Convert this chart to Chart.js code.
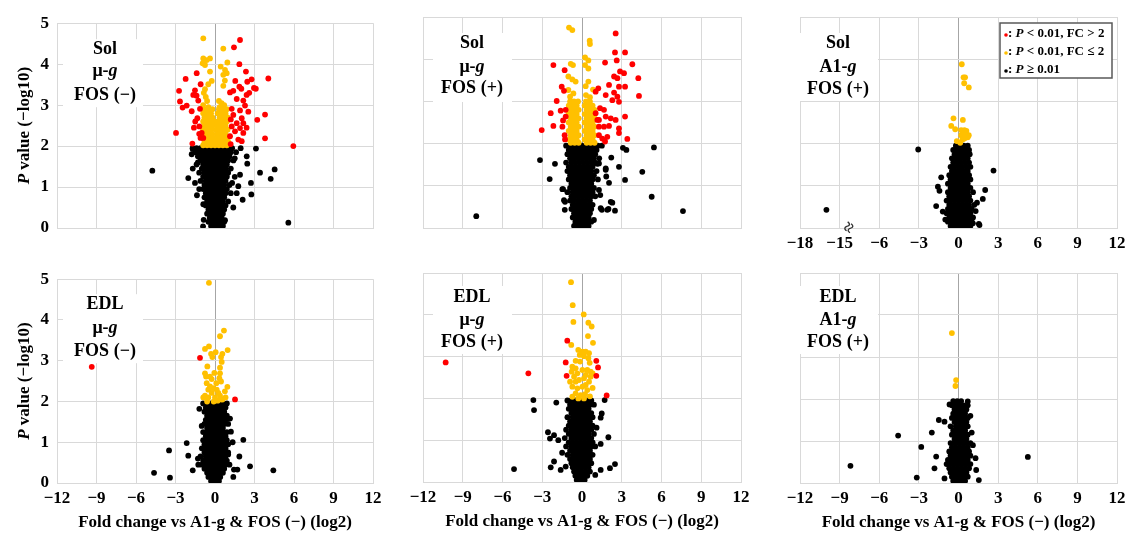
<!DOCTYPE html>
<html>
<head>
<meta charset="utf-8">
<script src="https://cdn.jsdelivr.net/npm/chart.js@4.4.0/dist/chart.umd.min.js"></script>
<style>
  body { margin: 0; background: #fff; width: 1131px; height: 539px; overflow: hidden; position: relative; }
  canvas { position: absolute; }
</style>
</head>
<body>
<canvas id="c0"></canvas><canvas id="c1"></canvas><canvas id="c2"></canvas>
<canvas id="c3"></canvas><canvas id="c4"></canvas><canvas id="c5"></canvas>
<script>
// tick labels
const xTicksNormal = ["−12", "−9", "−6", "−3", "0", "3", "6", "9", "12"];
const xTicksBroken = ["−18", "−15", "−6", "−3", "0", "3", "6", "9", "12"];
const yTicks = ["0", "1", "2", "3", "4", "5"];
const xTitle = "Fold change vs A1-g & FOS (−) (log2)";

// ---- Sol, mu-g, FOS (-) ----
const solMuMinusRed = [
  [1.9,4.59],[1.44,4.41],[1.85,4.0],[2.35,3.82],[4.05,3.65],[2.78,3.63],[2.45,3.57],[1.54,3.59],
  [1.85,3.45],[2.0,3.4],[2.96,3.42],[3.1,3.4],[-2.23,3.64],[-1.39,3.78],[-1.09,3.51],[-2.73,3.35],
  [-1.52,3.36],[-1.65,3.25],[-1.4,3.23],[-2.66,3.09],[-2.46,2.94],[-2.15,2.99],[-1.77,2.85],[-2.96,2.32],
  [-1.5,2.6],[-1.6,2.45],[-1.2,2.3],[-1.1,2.2],[1.14,3.31],[1.39,3.35],[1.65,3.15],[2.15,3.11],
  [2.28,2.99],[1.27,2.91],[1.9,2.87],[2.53,2.84],[1.39,2.76],[2.03,2.68],[1.65,2.56],[2.15,2.56],
  [1.27,2.48],[1.9,2.44],[1.52,2.36],[2.15,2.32],[1.14,2.24],[1.77,2.16],[2.03,2.12],[1.19,2.05],
  [3.8,2.77],[3.21,2.64],[3.8,2.19],[5.95,2.0],[-1.27,3.11],[-1.14,2.91],[-1.34,2.68],[-1.19,2.48],
  [-1.01,2.32],[-0.89,2.2],[-1.72,2.06],[2.4,3.25],[2.6,3.3],[1.2,2.65],[2.4,2.45]
];
const solMuMinusOrange = [
  [-0.89,4.63],[0.63,4.38],[-0.89,4.14],[-0.63,4.1],[-0.38,4.14],[-0.94,4.02],[-0.76,3.98],[0.94,4.04],
  [0.43,3.94],[0.76,3.86],[0.89,3.78],[0.63,3.74],[-0.38,3.82],[-0.25,3.59],[-0.51,3.51],[-0.76,3.39],
  [0.63,3.47],[0.75,3.6],[-0.85,3.3],[-0.7,3.2],[-0.6,3.1],[0.3,3.1],[0.5,3.05],[0.7,3.0],
  [0.35,2.95],[-0.9,3.0],[-0.5,2.95]
];
const solMuMinusOrangeRows = [
  [2.9,-0.8,-0.5,-0.2,0.3,0.6,0.9],
  [2.8,-0.9,-0.6,-0.3,0.2,0.5,0.8],
  [2.7,-0.8,-0.5,-0.2,0.35,0.65,0.95],
  [2.6,-0.9,-0.6,-0.3,0,0.3,0.6,0.9],
  [2.5,-0.8,-0.5,-0.2,0.2,0.5,0.8],
  [2.4,-0.9,-0.6,-0.3,0.05,0.35,0.65,0.95],
  [2.3,-0.8,-0.5,-0.2,0.2,0.5,0.8],
  [2.2,-0.9,-0.6,-0.3,0,0.3,0.6,0.9],
  [2.1,-0.8,-0.5,-0.2,0.15,0.45,0.75,1.0],
  [2.02,-0.9,-0.6,-0.3,0,0.3,0.6,0.9]
];
const solMuMinusBlack = [
  [-4.76,1.4],[5.57,0.13],[4.53,1.43],[4.23,1.2],[3.42,1.35],[2.73,1.1],[2.76,0.82],[3.11,1.94],
  [2.41,1.75],[2.45,1.57],[1.95,1.95],[2.1,0.69],[1.77,1.02],[-1.69,1.93],[-1.77,1.8],[-1.69,1.45],
  [-2.03,1.22],[-1.52,1.1],[-0.89,0.58],[-1.37,0.8],[-0.86,0.2],[-0.91,0.04],[0.76,0.19],[1.39,0.5],
  [1.65,0.85],[1.9,1.3],[1.5,1.7],[-1.3,1.6],[-1.2,0.95],[1.3,1.1]
];
const solMuMinusBlackRows = [
  [1.95,-1.7,-1.4,-1.1,-0.8,-0.5,-0.2,0.1,0.4,0.7,1.0,1.3],
  [1.85,-1.5,-1.2,-0.9,-0.6,-0.3,0,0.3,0.6,0.9,1.2,1.6],
  [1.75,-1.3,-1.0,-0.7,-0.4,-0.1,0.2,0.5,0.8,1.1],
  [1.65,-1.1,-0.8,-0.5,-0.2,0.1,0.4,0.7,1.0,1.4],
  [1.55,-1.4,-0.9,-0.6,-0.3,0,0.3,0.6,0.9],
  [1.45,-1.0,-0.7,-0.4,-0.1,0.2,0.5,0.8,1.2],
  [1.35,-1.2,-0.8,-0.5,-0.2,0.1,0.4,0.7,1.0],
  [1.25,-0.9,-0.6,-0.3,0,0.3,0.6,0.9,1.5],
  [1.15,-1.1,-0.7,-0.4,-0.1,0.2,0.5,0.8],
  [1.05,-0.8,-0.5,-0.2,0.1,0.4,0.7,1.1],
  [0.95,-0.9,-0.6,-0.3,0,0.3,0.6,0.9],
  [0.85,-0.7,-0.4,-0.1,0.2,0.5,0.8,1.2],
  [0.75,-0.8,-0.5,-0.2,0.1,0.4,0.7],
  [0.65,-0.6,-0.3,0,0.3,0.6,1.0],
  [0.55,-0.7,-0.4,-0.1,0.2,0.5,0.8],
  [0.45,-0.5,-0.2,0.1,0.4,0.7],
  [0.35,-0.6,-0.3,0,0.3,0.6],
  [0.25,-0.4,-0.1,0.2,0.5],
  [0.15,-0.5,-0.2,0.1,0.4,0.7],
  [0.05,-0.3,0,0.3,0.6]
];

// ---- Sol, mu-g, FOS (+) ----
const solMuPlusRed = [
  [2.54,4.61],[2.49,4.16],[3.25,4.16],[2.62,3.97],[1.74,3.92],[3.8,3.88],[2.87,3.71],[3.17,3.67],
  [2.42,3.59],[2.67,3.55],[4.25,3.55],[2.04,3.39],[2.79,3.35],[3.25,3.35],[1.23,3.31],[1.03,3.23],
  [1.79,3.15],[2.42,3.21],[2.67,3.11],[2.29,3.03],[2.79,2.99],[4.3,3.13],[1.36,2.84],[1.66,2.8],
  [1.28,2.56],[1.79,2.64],[2.17,2.6],[2.54,2.56],[3.25,2.64],[1.66,2.4],[2.04,2.42],[2.79,2.36],
  [1.28,2.2],[1.53,2.12],[1.91,2.16],[1.74,2.05],[3.42,2.11],[2.79,2.25],[1.16,2.56],[1.28,2.4],
  [1.03,2.72],[-2.16,3.86],[-1.31,3.74],[-1.53,3.35],[-1.36,3.25],[-1.91,3.01],[-1.61,2.78],[-1.23,2.8],
  [-2.36,2.72],[-1.23,2.64],[-2.16,2.42],[-1.48,2.4],[-1.31,2.2],[-3.04,2.32],[-1.43,2.55],[-1.28,2.1]
];
const solMuPlusOrange = [
  [-0.98,4.75],[-0.73,4.69],[0.58,4.44],[0.6,4.36],[0.23,4.04],[0.48,3.97],[-0.85,3.89],[-0.68,3.86],
  [0.23,3.86],[0.48,3.78],[-1.03,3.59],[-0.73,3.52],[-0.48,3.47],[0.48,3.47],[0.28,3.36],[0.83,3.28],
  [-1.03,3.27],[-0.65,3.19],[-0.9,3.11],[0.3,3.15],[0.6,3.1]
];
const solMuPlusOrangeRows = [
  [3.0,-0.9,-0.6,-0.3,0.3,0.6],
  [2.9,-1.0,-0.7,-0.4,0.2,0.5,0.8],
  [2.8,-0.85,-0.55,-0.25,0.35,0.65,0.95],
  [2.7,-1.0,-0.7,-0.4,0.2,0.5,0.8],
  [2.6,-0.85,-0.55,-0.25,0.35,0.65,0.95],
  [2.5,-1.0,-0.7,-0.4,0.2,0.5,0.8],
  [2.4,-0.85,-0.55,-0.25,0.35,0.65,0.95],
  [2.3,-1.0,-0.7,-0.4,0.2,0.5,0.8],
  [2.2,-0.85,-0.55,-0.25,0.35,0.65,0.95],
  [2.1,-1.0,-0.7,-0.4,0.2,0.5,0.8],
  [2.02,-0.85,-0.55,-0.25,0.35,0.65,0.95]
];
const solMuPlusBlack = [
  [-7.98,0.28],[7.62,0.4],[5.26,0.74],[5.43,1.91],[4.55,1.33],[3.35,1.85],[3.09,1.9],[2.79,1.45],
  [2.21,1.67],[3.25,1.14],[2.29,0.6],[2.49,0.41],[2.0,0.45],[1.5,0.43],[-3.17,1.61],[-2.04,1.52],
  [-2.44,1.16],[-1.43,0.92],[-1.28,0.62],[1.16,1.52],[1.79,1.38],[2.04,1.07],[1.38,0.78],[1.28,1.53],
  [1.79,1.41],[1.83,1.22],[1.28,0.9],[2.17,0.62],[1.91,0.43],[1.41,0.47],[0.9,0.19],[-1.48,0.92],
  [-1.36,0.66],[-1.3,0.43]
];
const solMuPlusBlackRows = [
  [1.95,-1.2,-0.9,-0.6,-0.3,0,0.3,0.6,0.9,1.2,1.5],
  [1.85,-1.0,-0.7,-0.4,-0.1,0.2,0.5,0.8,1.1],
  [1.75,-1.1,-0.8,-0.5,-0.2,0.1,0.4,0.7,1.0],
  [1.65,-0.9,-0.6,-0.3,0,0.3,0.6,0.9,1.3],
  [1.55,-1.2,-0.8,-0.5,-0.2,0.1,0.4,0.7,1.0],
  [1.45,-1.0,-0.7,-0.4,-0.1,0.2,0.5,0.8],
  [1.35,-1.1,-0.8,-0.5,-0.2,0.1,0.4,0.7,1.1],
  [1.25,-0.9,-0.6,-0.3,0,0.3,0.6,0.9],
  [1.15,-1.0,-0.7,-0.4,-0.1,0.2,0.5,0.8,1.2],
  [1.05,-0.8,-0.5,-0.2,0.1,0.4,0.7],
  [0.95,-0.9,-0.6,-0.3,0,0.3,0.6,0.9],
  [0.85,-1.1,-0.7,-0.4,-0.1,0.2,0.5,0.8],
  [0.75,-0.8,-0.5,-0.2,0.1,0.4,0.7,1.0],
  [0.65,-0.9,-0.6,-0.3,0,0.3,0.6],
  [0.55,-0.7,-0.4,-0.1,0.2,0.5,0.8],
  [0.45,-0.8,-0.5,-0.2,0.1,0.4,0.7],
  [0.35,-0.6,-0.3,0,0.3,0.6],
  [0.25,-0.7,-0.4,-0.1,0.2,0.5],
  [0.15,-0.5,-0.2,0.1,0.4,0.7],
  [0.05,-0.6,-0.3,0,0.3,0.5]
];

// ---- Sol, A1-g, FOS (+) ----
const solA1PlusRed = [];
const solA1PlusOrange = [
  [0.25,3.88],[0.38,3.57],[0.5,3.57],[0.43,3.43],[0.78,3.33],[-0.38,2.6],[0.33,2.56],[-0.55,2.42],
  [-0.25,2.34],[0.2,2.32],[0.45,2.32],[0.33,2.24],[0.58,2.2],[0.78,2.2],[0.2,2.2],[0.45,2.12],
  [0.7,2.15],[-0.13,2.06],[0.13,2.02],[0.6,2.3],[0.3,2.1]
];
const solA1PlusOrangeRows = [];
const solA1PlusBlack = [
  [-16.0,0.43],[-3.05,1.86],[2.65,1.36],[2.02,0.9],[1.84,0.69],[-1.69,0.52],[-1.31,1.2],[-1.44,0.88],
  [1.59,0.07],[1.54,0.1],[1.09,0.11],[-1.19,0.39],[-1.56,0.98],[1.3,0.4],[1.4,0.6],[-1.0,0.2]
];
const solA1PlusBlackRows = [
  [1.95,-0.2,0.1,0.4,0.7],
  [1.85,-0.4,-0.1,0.2,0.5,0.8],
  [1.75,-0.3,0,0.3,0.6,0.85],
  [1.65,-0.5,-0.2,0.1,0.4,0.7],
  [1.55,-0.4,-0.1,0.2,0.5,0.8],
  [1.45,-0.6,-0.3,0,0.3,0.6,0.9],
  [1.35,-0.5,-0.2,0.1,0.4,0.7],
  [1.25,-0.7,-0.4,-0.1,0.2,0.5,0.8],
  [1.15,-0.6,-0.3,0,0.3,0.6,0.9],
  [1.05,-0.8,-0.5,-0.2,0.1,0.4,0.7],
  [0.95,-0.6,-0.3,0,0.3,0.6,0.9],
  [0.85,-0.8,-0.5,-0.2,0.1,0.4,0.7,1.1],
  [0.75,-0.7,-0.4,-0.1,0.2,0.5,0.8],
  [0.65,-0.9,-0.6,-0.3,0,0.3,0.6,0.9],
  [0.55,-0.7,-0.4,-0.1,0.2,0.5,0.8,1.2],
  [0.45,-0.8,-0.5,-0.2,0.1,0.4,0.7,1.0],
  [0.35,-0.9,-0.6,-0.3,0,0.3,0.6,0.9],
  [0.25,-0.7,-0.4,-0.1,0.2,0.5,0.8,1.1],
  [0.15,-0.8,-0.5,-0.2,0.1,0.4,0.7,1.0],
  [0.05,-0.6,-0.3,0,0.3,0.6,0.9]
];

// ---- EDL, mu-g, FOS (-) ----
const edlMuMinusRed = [[-1.14,3.07],[1.52,2.05],[-9.36,2.85]];
const edlMuMinusOrange = [
  [-0.46,4.91],[0.68,3.74],[0.38,3.6],[-0.76,3.29],[-0.46,3.35],[0.96,3.26],[-0.3,3.17],[-0.2,3.09],
  [0.05,3.21],[0.56,3.17],[0.46,3.09],[0.51,2.97],[-0.58,2.86],[0.38,2.83],[-0.76,2.69],[-0.68,2.61],
  [-0.38,2.61],[-0.25,2.55],[0.38,2.69],[0.33,2.57],[0.46,2.49],[0.94,2.36],[-0.63,2.45],[-0.38,2.37],
  [-0.51,2.29],[-0.13,2.33],[0.13,2.29],[0.25,2.21],[-0.25,2.21],[-0.76,2.14],[-0.51,2.1],[0,2.1],
  [0.38,2.14],[0.51,2.05],[-0.89,2.1],[0.56,2.05],[-0.1,2.0],[0.2,2.02],[-0.6,2.0],[0.8,2.1],
  [0.1,2.45],[-0.05,2.7],[0.75,2.25]
];
const edlMuMinusOrangeRows = [];
const edlMuMinusBlack = [
  [-4.63,0.25],[-3.49,0.8],[-3.42,0.13],[-2.15,0.98],[-2.03,0.67],[-1.69,0.31],[-1.27,0.45],[4.43,0.31],
  [2.66,0.41],[2.15,1.06],[1.85,0.65],[1.44,0.33],[1.7,0.33],[1.34,1.0],[-1.01,1.4],[-1.19,1.82],
  [1.14,1.58],[1.21,1.26],[1.39,0.15],[1.0,0.7],[-1.3,0.6]
];
const edlMuMinusBlackRows = [
  [1.95,-0.9,-0.6,-0.3,0,0.3,0.6,0.9],
  [1.85,-0.7,-0.4,-0.1,0.2,0.5,0.8],
  [1.75,-0.8,-0.5,-0.2,0.1,0.4,0.7],
  [1.65,-0.6,-0.3,0,0.3,0.6,0.9],
  [1.55,-0.7,-0.4,-0.1,0.2,0.5,0.8],
  [1.45,-0.8,-0.5,-0.2,0.1,0.4,0.7,1.0],
  [1.35,-0.6,-0.3,0,0.3,0.6],
  [1.25,-0.9,-0.6,-0.3,0,0.3,0.6,0.9],
  [1.15,-0.7,-0.4,-0.1,0.2,0.5,0.8],
  [1.05,-0.9,-0.6,-0.3,0,0.3,0.6,0.9],
  [0.95,-0.8,-0.5,-0.2,0.1,0.4,0.7,1.0],
  [0.85,-1.0,-0.7,-0.4,-0.1,0.2,0.5,0.8],
  [0.75,-0.8,-0.5,-0.2,0.1,0.4,0.7,1.0],
  [0.65,-1.1,-0.7,-0.4,-0.1,0.2,0.5,0.8],
  [0.55,-0.9,-0.6,-0.3,0,0.3,0.6,0.9],
  [0.45,-1.0,-0.7,-0.4,-0.1,0.2,0.5,0.8,1.1],
  [0.35,-0.8,-0.5,-0.2,0.1,0.4,0.7],
  [0.25,-0.6,-0.3,0,0.3,0.6],
  [0.15,-0.5,-0.2,0.1,0.4],
  [0.05,-0.3,0,0.3]
];

// ---- EDL, mu-g, FOS (+) ----
const edlMuPlusRed = [
  [-1.11,3.38],[-1.23,2.86],[-1.16,2.54],[1.08,2.9],[1.21,2.74],[1.08,2.54],[1.86,2.07],[-4.05,2.6],
  [-10.29,2.86]
];
const edlMuPlusOrange = [
  [-0.83,4.78],[-0.7,4.23],[0.13,4.01],[-0.65,3.83],[0.48,3.81],[0.73,3.72],[0.45,3.49],[0.83,3.33],
  [-0.81,3.28],[-0.28,3.16],[0.03,3.12],[0.28,3.12],[0.53,3.08],[-0.17,3.04],[0.15,3.01],[0.48,2.96],
  [-0.48,2.9],[-0.15,2.88],[0.58,2.85],[-0.73,2.76],[-0.48,2.72],[-0.78,2.64],[-0.35,2.6],[-0.6,2.52],
  [0.03,2.68],[0.4,2.68],[0.65,2.64],[0.28,2.56],[0.65,2.52],[-0.48,2.4],[-0.23,2.44],[0.15,2.48],
  [0.53,2.4],[-0.73,2.28],[-0.35,2.24],[0.03,2.28],[0.28,2.32],[0.4,2.2],[-0.48,2.12],[-0.1,2.08],
  [0.23,2.1],[-0.73,2.04],[-0.28,2.0],[0.15,2.0],[0.6,2.05],[0.8,2.25],[-0.9,2.4],[0.8,2.6]
];
const edlMuPlusOrangeRows = [];
const edlMuPlusBlack = [
  [-5.13,0.31],[-3.67,1.96],[-3.62,1.72],[-1.94,1.9],[-2.57,1.19],[-2.11,1.12],[-2.42,1.04],[-1.79,1.0],
  [-2.11,0.49],[-2.36,0.35],[-1.61,0.29],[-1.23,0.37],[1.71,1.96],[1.49,1.64],[1.41,1.54],[1.99,1.07],
  [1.41,0.91],[2.11,0.33],[2.49,0.43],[1.41,0.29],[1.0,0.17],[1.1,1.3],[-1.5,0.7]
];
const edlMuPlusBlackRows = [
  [1.95,-1.1,-0.8,-0.5,-0.2,0.1,0.4,0.7],
  [1.85,-0.9,-0.6,-0.3,0,0.3,0.6,0.9],
  [1.75,-1.0,-0.7,-0.4,-0.1,0.2,0.5],
  [1.65,-0.8,-0.5,-0.2,0.1,0.4,0.7],
  [1.55,-1.1,-0.7,-0.4,-0.1,0.2,0.5,0.8],
  [1.45,-0.9,-0.6,-0.3,0,0.3,0.6],
  [1.35,-1.0,-0.7,-0.4,-0.1,0.2,0.5,0.8],
  [1.25,-1.2,-0.8,-0.5,-0.2,0.1,0.4,0.7],
  [1.15,-1.0,-0.7,-0.4,-0.1,0.2,0.5,0.9],
  [1.05,-1.3,-0.8,-0.5,-0.2,0.1,0.4,0.7],
  [0.95,-1.0,-0.7,-0.4,-0.1,0.2,0.5,0.8],
  [0.85,-1.2,-0.8,-0.5,-0.2,0.1,0.4,0.7,1.0],
  [0.75,-0.9,-0.6,-0.3,0,0.3,0.6],
  [0.65,-1.1,-0.7,-0.4,-0.1,0.2,0.5,0.8],
  [0.55,-0.9,-0.6,-0.3,0,0.3,0.6],
  [0.45,-0.8,-0.5,-0.2,0.1,0.4,0.7],
  [0.35,-0.7,-0.4,-0.1,0.2,0.5],
  [0.25,-0.6,-0.3,0,0.3,0.6],
  [0.15,-0.5,-0.2,0.1,0.4],
  [0.05,-0.4,-0.1,0.2]
];

// ---- EDL, A1-g, FOS (+) ----
const edlA1PlusRed = [];
const edlA1PlusOrange = [[-0.5,3.57],[-0.18,2.45],[-0.23,2.31]];
const edlA1PlusOrangeRows = [];
const edlA1PlusBlack = [
  [-8.18,0.41],[-4.57,1.13],[-2.82,0.86],[-3.16,0.13],[5.25,0.62],[-2.02,1.2],[-1.49,1.5],[-1.06,1.46],
  [-1.69,0.63],[-1.82,0.35],[-1.06,0.11],[0.7,1.94],[1.09,0.9],[1.29,0.59],[1.34,0.31],[1.54,0.07],
  [-0.68,1.87],[1.0,1.2],[0.9,1.6]
];
const edlA1PlusBlackRows = [
  [1.95,-0.4,-0.1,0.2],
  [1.85,-0.5,-0.2,0.1,0.4,0.7],
  [1.75,-0.3,0,0.3,0.6],
  [1.65,-0.4,-0.1,0.2,0.5],
  [1.55,-0.5,-0.2,0.1,0.4,0.7],
  [1.45,-0.3,0,0.3,0.6],
  [1.35,-0.6,-0.2,0.1,0.4,0.7],
  [1.25,-0.4,-0.1,0.2,0.5],
  [1.15,-0.5,-0.2,0.1,0.4,0.7],
  [1.05,-0.3,0,0.3,0.6],
  [0.95,-0.6,-0.3,0,0.3,0.6,0.9],
  [0.85,-0.5,-0.2,0.1,0.4,0.7],
  [0.75,-0.7,-0.4,-0.1,0.2,0.5,0.8],
  [0.65,-0.6,-0.3,0,0.3,0.6,0.9],
  [0.55,-0.8,-0.5,-0.2,0.1,0.4,0.7],
  [0.45,-0.9,-0.6,-0.3,0,0.3,0.6,0.9],
  [0.35,-0.7,-0.4,-0.1,0.2,0.5,0.8],
  [0.25,-0.6,-0.3,0,0.3,0.6],
  [0.15,-0.5,-0.2,0.1,0.4,0.7],
  [0.05,-0.4,-0.1,0.2,0.5]
];

const RED = "#ff0000", ORANGE = "#ffc000", BLACK = "#000000";
const FONT = "'Liberation Serif', 'Times New Roman', serif";
const GRID = "#d9d9d9", ZERO = "#a6a6a6";

function rowsToPoints(rows, shift) {
  const pts = [];
  rows.forEach(r => {
    for (let i = 1; i < r.length; i++) pts.push({ x: shift(r[i]), y: r[0] });
  });
  return pts;
}
function toPoints(list, shift) {
  return list.map(([x, y]) => ({ x: shift(x), y: y }));
}
const noShift = x => x;
// the broken axis of the Sol A1-g panel: left of the break, labels run 6 lower
const brokenShift = x => (x < -9 ? x + 6 : x);

function fontStr(size, italic) {
  return (italic ? "italic " : "") + "bold " + size + "px " + FONT;
}
function drawRich(ctx, segs, x, y, size, align) {
  let w = 0;
  segs.forEach(([t, it]) => { ctx.font = fontStr(size, it); w += ctx.measureText(t).width; });
  let cx = align === "center" ? x - w / 2 : x;
  ctx.textAlign = "left";
  ctx.textBaseline = "middle";
  segs.forEach(([t, it]) => {
    ctx.font = fontStr(size, it);
    ctx.fillText(t, cx, y);
    cx += ctx.measureText(t).width;
  });
}

const panels = [
  { left: 57, top: 17, w: 316, h: 211, bottomRow: false, yLab: true, xLab: null, shift: noShift,
    red: solMuMinusRed, orange: solMuMinusOrange, orangeRows: solMuMinusOrangeRows,
    black: solMuMinusBlack, blackRows: solMuMinusBlackRows,
    lines: [[["Sol", 0]], [["μ-", 0], ["g", 1]], [["FOS (−)", 0]]], tx: 48, ty: [26, 48, 72], box: [6, 16, 80, 68] },
  { left: 423, top: 17, w: 318, h: 211, bottomRow: false, yLab: false, xLab: null, shift: noShift,
    red: solMuPlusRed, orange: solMuPlusOrange, orangeRows: solMuPlusOrangeRows,
    black: solMuPlusBlack, blackRows: solMuPlusBlackRows,
    lines: [[["Sol", 0]], [["μ-", 0], ["g", 1]], [["FOS (+)", 0]]], tx: 49, ty: [26, 50, 71], box: [10, 16, 79, 69] },
  { left: 800, top: 17, w: 317, h: 211, bottomRow: false, yLab: false, xLab: xTicksBroken, shift: brokenShift,
    red: solA1PlusRed, orange: solA1PlusOrange, orangeRows: solA1PlusOrangeRows,
    black: solA1PlusBlack, blackRows: solA1PlusBlackRows, legend: true, brk: true,
    lines: [[["Sol", 0]], [["A1-", 0], ["g", 1]], [["FOS (+)", 0]]], tx: 38, ty: [26, 50, 72], box: [0, 16, 78, 68] },
  { left: 57, top: 273, w: 316, h: 210, bottomRow: true, yLab: true, xLab: xTicksNormal, shift: noShift,
    red: edlMuMinusRed, orange: edlMuMinusOrange, orangeRows: edlMuMinusOrangeRows,
    black: edlMuMinusBlack, blackRows: edlMuMinusBlackRows,
    lines: [[["EDL", 0]], [["μ-", 0], ["g", 1]], [["FOS (−)", 0]]], tx: 48, ty: [25, 49, 72], box: [6, 15, 80, 69] },
  { left: 423, top: 273, w: 318, h: 209, bottomRow: true, yLab: false, xLab: xTicksNormal, shift: noShift,
    red: edlMuPlusRed, orange: edlMuPlusOrange, orangeRows: edlMuPlusOrangeRows,
    black: edlMuPlusBlack, blackRows: edlMuPlusBlackRows,
    lines: [[["EDL", 0]], [["μ-", 0], ["g", 1]], [["FOS (+)", 0]]], tx: 49, ty: [24, 47, 69], box: [10, 13, 79, 68] },
  { left: 800, top: 273, w: 317, h: 210, bottomRow: true, yLab: false, xLab: xTicksNormal, shift: noShift,
    red: edlA1PlusRed, orange: edlA1PlusOrange, orangeRows: edlA1PlusOrangeRows,
    black: edlA1PlusBlack, blackRows: edlA1PlusBlackRows,
    lines: [[["EDL", 0]], [["A1-", 0], ["g", 1]], [["FOS (+)", 0]]], tx: 38, ty: [24, 47, 69], box: [0, 13, 78, 68] }
];

const YW = 57, PT = 12, PR = 16;

panels.forEach((p, i) => {
  const XH = p.bottomRow ? 52 : 30;
  const canvas = document.getElementById("c" + i);
  const cw = p.w + YW + PR, ch = p.h + PT + XH;
  canvas.width = cw; canvas.height = ch;
  canvas.style.width = cw + "px"; canvas.style.height = ch + "px";
  canvas.style.left = (p.left - YW) + "px";
  canvas.style.top = (p.top - PT) + "px";

  const decor = {
    id: "decor" + i,
    beforeDatasetsDraw(chart) {
      const { ctx, chartArea: a } = chart;
      ctx.save();
      ctx.fillStyle = "#fff";
      ctx.fillRect(a.left + p.box[0], a.top + p.box[1], p.box[2], p.box[3]);
      ctx.fillStyle = "#000";
      p.lines.forEach((segs, k) => drawRich(ctx, segs, a.left + p.tx, a.top + p.ty[k], 18, "center"));
      ctx.restore();
    },
    afterDatasetsDraw(chart) {
      const { ctx, chartArea: a } = chart;
      ctx.save();
      if (p.yLab) {
        ctx.translate(25 - (p.left - YW), (a.top + a.bottom) / 2);
        ctx.rotate(-Math.PI / 2);
        ctx.fillStyle = "#000";
        drawRich(ctx, [["P", 1], [" value (−log10)", 0]], 0, 0, 17, "center");
        ctx.setTransform(1, 0, 0, 1, 0, 0);
      }
      if (p.legend) {
        const lx = a.left + 200, ly = a.top + 6;
        ctx.fillStyle = "#fff";
        ctx.fillRect(lx, ly, 112, 55);
        ctx.strokeStyle = "#595959";
        ctx.lineWidth = 1.5;
        ctx.strokeRect(lx, ly, 112, 55);
        const items = [
          [RED, [[": ", 0], ["P", 1], [" < 0.01, FC > 2", 0]]],
          [ORANGE, [[": ", 0], ["P", 1], [" < 0.01, FC ≤ 2", 0]]],
          [BLACK, [[": ", 0], ["P", 1], [" ≥ 0.01", 0]]]
        ];
        items.forEach(([c, segs], k) => {
          const yy = ly + 11 + k * 18;
          ctx.fillStyle = c;
          ctx.beginPath();
          ctx.arc(lx + 6, yy + 1, 1.8, 0, Math.PI * 2);
          ctx.fill();
          ctx.fillStyle = "#000";
          drawRich(ctx, segs, lx + 8, yy, 13, "left");
        });
      }
      if (p.brk) {
        const bx = chart.scales.x.getPixelForValue(-8.2);
        ctx.translate(bx, a.bottom);
        ctx.rotate(-Math.PI / 3);
        ctx.fillStyle = "#333";
        ctx.font = "bold 19px " + FONT;
        ctx.textAlign = "center";
        ctx.textBaseline = "middle";
        ctx.fillText("≈", 0, 0);
      }
      ctx.restore();
    }
  };

  new Chart(canvas, {
    type: "scatter",
    data: {
      datasets: [
        { label: "P < 0.01, FC > 2", data: toPoints(p.red, p.shift), backgroundColor: RED },
        { label: "P < 0.01, FC ≤ 2", data: toPoints(p.orange, p.shift).concat(rowsToPoints(p.orangeRows, p.shift)), backgroundColor: ORANGE },
        { label: "P ≥ 0.01", data: toPoints(p.black, p.shift).concat(rowsToPoints(p.blackRows, p.shift)), backgroundColor: BLACK }
      ]
    },
    options: {
      responsive: false,
      animation: false,
      events: [],
      devicePixelRatio: 1,
      layout: { padding: { left: 0, right: PR, top: PT, bottom: 0 } },
      elements: { point: { radius: 2.9, borderWidth: 0, hoverRadius: 2.9 } },
      plugins: { legend: { display: false }, tooltip: { enabled: false } },
      scales: {
        x: {
          type: "linear", min: -12, max: 12,
          afterFit(s) { s.height = XH; },
          grid: { color: c => (c.tick && c.tick.value === 0 ? ZERO : GRID), drawTicks: false },
          border: { color: GRID },
          ticks: {
            display: !!p.xLab, stepSize: 3, padding: 5, color: "#000",
            font: { family: FONT, size: 17, weight: "bold" },
            callback: (v, idx) => (p.xLab ? p.xLab[idx] : "")
          },
          title: {
            display: p.bottomRow, text: xTitle, color: "#000",
            font: { family: FONT, size: 17, weight: "bold" },
            padding: { top: 0, bottom: 2 }
          }
        },
        y: {
          min: 0, max: 5,
          afterFit(s) { s.width = YW; },
          grid: { color: GRID, drawTicks: false },
          border: { color: GRID },
          ticks: {
            display: p.yLab, stepSize: 1, padding: 8, color: "#000",
            font: { family: FONT, size: 17, weight: "bold" },
            callback: (v, idx) => yTicks[idx]
          }
        }
      }
    },
    plugins: [decor]
  });
});
</script>
</body>
</html>
